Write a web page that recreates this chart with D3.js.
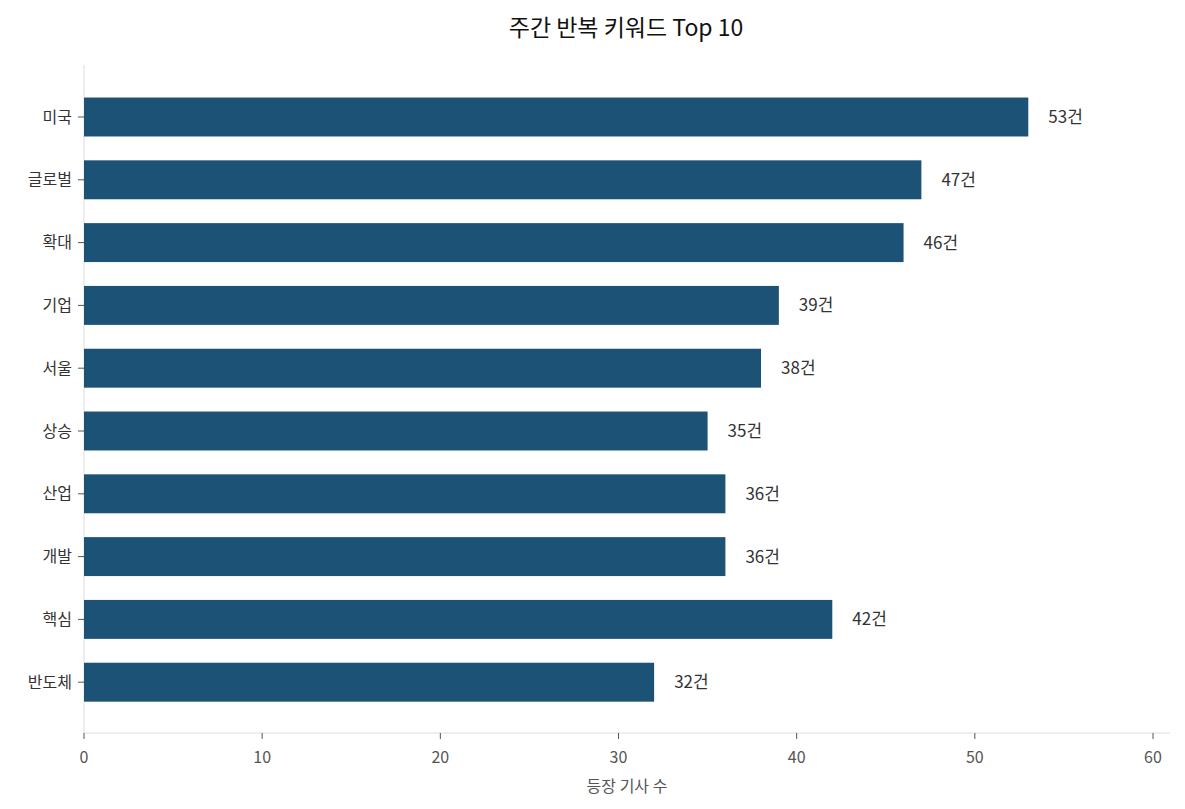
<!DOCTYPE html>
<html><head><meta charset="utf-8">
<script src="https://cdn.jsdelivr.net/npm/d3@7"></script>
<style>body{margin:0;background:#fff;font-family:"Noto Sans CJK KR","Noto Sans",sans-serif;}</style>
</head><body>
<svg id="chart"></svg>
<script>
var keywords = ["미국","글로벌","확대","기업","서울","상승","산업","개발","핵심","반도체"];
var counts = [53,47,46,39,38,35,36,36,42,32];
var xTicks = [0,10,20,30,40,50,60];

var svg = d3.select("#chart").attr("width",1185).attr("height",809);

var x = d3.scaleLinear().domain([0,60]).range([84,1153]);
var y = d3.scaleBand().domain(keywords).range([85.6,713.6]).paddingInner(0.38).paddingOuter(0.19);

// axes lines
svg.append("line").attr("x1",84).attr("x2",1170).attr("y1",733).attr("y2",733).attr("stroke","#ddd");
svg.append("line").attr("x1",84).attr("x2",84).attr("y1",65).attr("y2",733).attr("stroke","#ddd");

svg.selectAll("rect.bar").data(counts).enter().append("rect")
	.attr("class","bar")
	.attr("x",x(0))
	.attr("y",function(d,i){return y(keywords[i]);})
	.attr("width",function(d){return x(d)-x(0);})
	.attr("height",y.bandwidth())
	.attr("fill","#1b5276");

svg.selectAll("text.val").data(counts).enter().append("text")
	.attr("x",function(d){return x(d)+20;})
	.attr("y",function(d,i){return y(keywords[i])+y.bandwidth()/2;})
	.attr("dy","0.35em").attr("font-size",17).attr("fill","#333")
	.text(function(d){return d+"건";});

// y labels + ticks
keywords.forEach(function(k){
	var cy = y(k)+y.bandwidth()/2;
	svg.append("line").attr("x1",78).attr("x2",84).attr("y1",cy).attr("y2",cy).attr("stroke","#555");
	svg.append("text").attr("x",72).attr("y",cy).attr("dy","0.35em").attr("text-anchor","end")
		.attr("font-size",16).attr("fill","#333").text(k);
});

xTicks.forEach(function(t){
	svg.append("line").attr("x1",x(t)).attr("x2",x(t)).attr("y1",733).attr("y2",739).attr("stroke","#555");
	svg.append("text").attr("x",x(t)).attr("y",757).attr("dy","0.35em").attr("text-anchor","middle")
		.attr("font-size",16).attr("fill","#555").text(t);
});

svg.append("text").attr("x",(84+1170)/2).attr("y",786).attr("dy","0.35em").attr("text-anchor","middle")
	.attr("font-size",16).attr("fill","#555").text("등장 기사 수");

svg.append("text").attr("x",626).attr("y",28).attr("dy","0.35em").attr("text-anchor","middle")
	.attr("font-size",23).attr("fill","#111").text("주간 반복 키워드 Top 10");
</script>
</body></html>
